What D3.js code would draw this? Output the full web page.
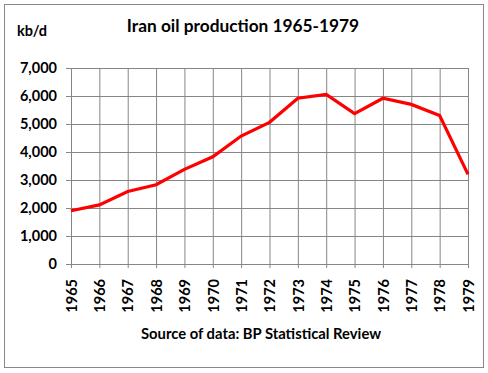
<!DOCTYPE html>
<html>
<head>
    <title>Iran oil production 1965-1979</title>
    <script src="https://d3js.org/d3.v7.min.js"></script>
    <style>
        body { margin: 0; background: #fff; }
        text { font-family: Lato, "Open Sans", sans-serif; font-weight: bold; fill: #000; }
        .grid line { stroke: #868686; stroke-width: 1; }
    </style>
</head>
<body>
    <div id="chart"></div>
    <script>
        // Data (thousand barrels per day)
        const years = [1965, 1966, 1967, 1968, 1969, 1970, 1971, 1972, 1973, 1974, 1975, 1976, 1977, 1978, 1979];
        const production = [1900, 2110, 2590, 2830, 3380, 3830, 4570, 5060, 5920, 6060, 5370, 5920, 5700, 5300, 3200];
        const yTicks = [0, 1000, 2000, 3000, 4000, 5000, 6000, 7000];

        const width = 488, height = 373;
        const margin = { top: 68, right: 20, bottom: 109, left: 71 };
        const innerW = 468 - margin.left;
        const innerH = 264 - margin.top;

        const svg = d3.select('#chart').append('svg')
            .attr('width', width)
            .attr('height', height);

        // outer frame
        svg.append('rect')
            .attr('x', 4.5).attr('y', 4.5)
            .attr('width', 479).attr('height', 363)
            .attr('fill', '#fff')
            .attr('stroke', '#888');

        const g = svg.append('g').attr('transform', `translate(${margin.left},${margin.top})`);

        const x = d3.scaleLinear().domain([1965, 1979]).range([0, innerW]);
        const y = d3.scaleLinear().domain([0, 7000]).range([innerH, 0]);

        // horizontal grid + y ticks
        const yAxis = g.append('g').attr('class', 'grid')
            .call(d3.axisLeft(y).tickValues(yTicks).tickSize(-innerW).tickPadding(14)
                .tickFormat(d3.format(',')));
        yAxis.select('.domain').remove();
        yAxis.selectAll('.tick line').attr('x1', -5).attr('stroke', '#868686');
        yAxis.selectAll('.tick text').style('font-size', '14.5px');

        // vertical grid + x ticks
        const xAxis = g.append('g').attr('class', 'grid')
            .attr('transform', `translate(0,${innerH})`)
            .call(d3.axisBottom(x).tickValues(years).tickSize(-innerH).tickFormat(d3.format('d')));
        xAxis.select('.domain').remove();
        xAxis.selectAll('.tick line').attr('y1', 4).attr('stroke', '#868686');
        xAxis.selectAll('.tick text')
            .style('font-size', '14.5px')
            .attr('text-anchor', 'end')
            .attr('transform', 'rotate(-90)')
            .attr('x', -15)
            .attr('y', 0)
            .attr('dy', '0.36em');

        // line
        g.append('path')
            .datum(years.map((yr, i) => [yr, production[i]]))
            .attr('fill', 'none')
            .attr('stroke', '#ff0000')
            .attr('stroke-width', 3.2)
            .attr('stroke-linejoin', 'miter')
            .attr('d', d3.line().x(d => x(d[0])).y(d => y(d[1])));

        // texts
        svg.append('text').attr('x', 243).attr('y', 32)
            .attr('text-anchor', 'middle').style('font-size', '17.3px')
            .text('Iran oil production 1965-1979');
        svg.append('text').attr('x', 17).attr('y', 36)
            .style('font-size', '14.5px')
            .text('kb/d');
        svg.append('text').attr('x', 261).attr('y', 339)
            .attr('text-anchor', 'middle').style('font-size', '14.8px')
            .text('Source of data: BP Statistical Review');
    </script>
</body>
</html>
